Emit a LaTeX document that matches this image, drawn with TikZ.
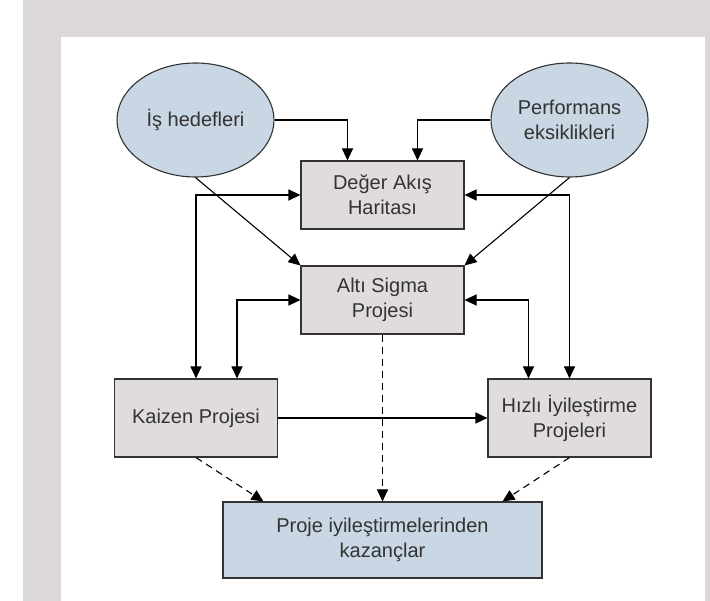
\documentclass[tikz,border=0pt]{standalone}
\usepackage{fontspec}
\setmainfont{Liberation Sans}
\usetikzlibrary{arrows.meta,positioning,calc,shapes.geometric}
\definecolor{framegray}{HTML}{DDD8D8}
\definecolor{boxgray}{HTML}{E0DCDC}
\definecolor{goalblue}{HTML}{C9D6E3}
\definecolor{inkgray}{HTML}{333333}
\begin{document}
\begin{tikzpicture}[x=1pt,y=-1pt,>={Triangle[length=12pt,width=11pt]},
  every node/.style={font=\fontsize{20}{25}\selectfont,text=inkgray,align=center},
  goal/.style={ellipse,draw=inkgray,line width=1.1pt,fill=goalblue,minimum width=157pt,minimum height=114pt,inner sep=0pt},
  projbox/.style={rectangle,draw=inkgray,line width=1.1pt,fill=boxgray,minimum width=163pt,inner sep=0pt},
  link/.style={draw=black,line width=1.1pt},
  gain/.style={link,->,dash pattern=on 7pt off 5pt}]
 \useasboundingbox (0,0) rectangle (710,601);
 \fill[framegray] (23,0) rectangle (710,601);
 \fill[white] (61,37) rectangle (705,601);
 \node[goal] (hedef) at(195.5,120){İş hedefleri};
 \node[goal] (eksik) at(569.5,120){Performans\\eksiklikleri};
 \node[projbox,minimum height=68pt] (deger) at(382.5,195){Değer Akış\\Haritası};
 \node[projbox,minimum height=68pt] (alti) at(382.5,300){Altı Sigma\\Projesi};
 \node[projbox,minimum height=78pt] (kaizen) at(196,418){Kaizen Projesi};
 \node[projbox,minimum height=78pt] (hizli) at(569.5,418){Hızlı İyileştirme\\Projeleri};
 \node[projbox,fill=goalblue,minimum width=319pt,minimum height=76pt] (kazanc) at(382.5,540){Proje iyileştirmelerinden\\kazançlar};
 \draw[link,->] (hedef.east) -| ($(deger.north)+(-35,0)$);
 \draw[link,->] (eksik.west) -| ($(deger.north)+(35,0)$);
 \draw[link,->] (hedef.south) -- (alti.north west);
 \draw[link,->] (eksik.south) -- (alti.north east);
 \draw[link,<->] (kaizen.north) |- (deger.west);
 \draw[link,<->] ($(kaizen.north)+(41,0)$) |- (alti.west);
 \draw[link,<->] (hizli.north) |- (deger.east);
 \draw[link,<->] ($(hizli.north)+(-41,0)$) |- (alti.east);
 \draw[link,->] (kaizen.east) -- (hizli.west);
 \draw[gain] (alti.south) -- (alti.south |- kazanc.north);
 \draw[gain] (kaizen.south) -- ($(kazanc.north west)+(41,0)$);
 \draw[gain] (hizli.south) -- ($(kazanc.north east)+(-40,0)$);
\end{tikzpicture}
\end{document}
